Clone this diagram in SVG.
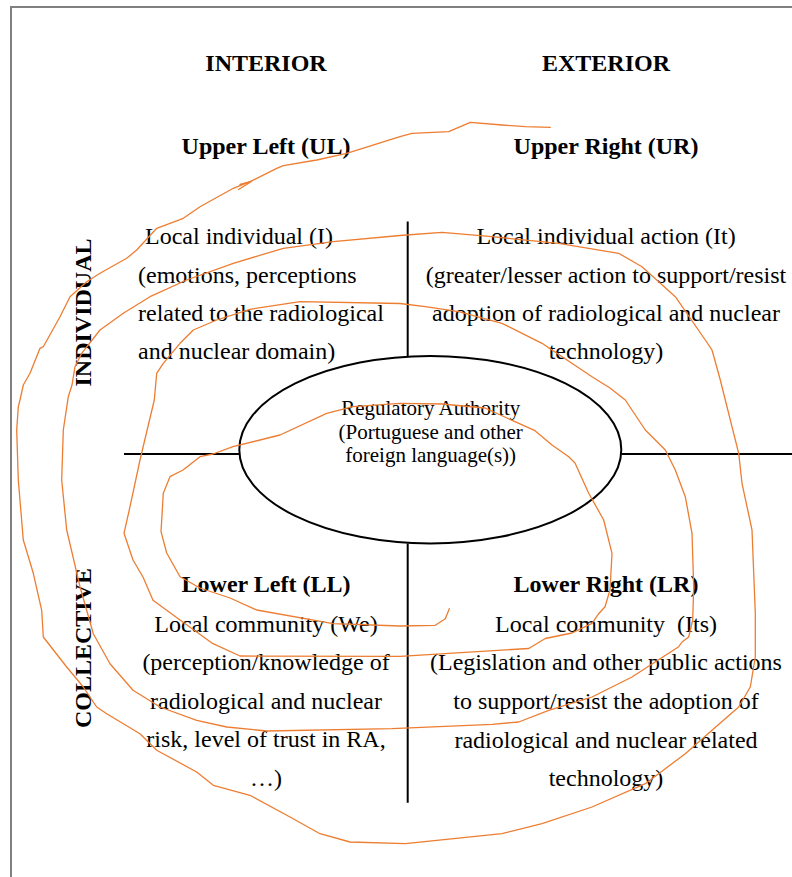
<svg xmlns="http://www.w3.org/2000/svg" width="792" height="877" viewBox="0 0 792 877">
<style>
.t{font-family:"Liberation Serif","Times New Roman",serif;font-size:24px;fill:#000}
.b{font-weight:bold}
.m{text-anchor:middle}
.e{font-family:"Liberation Serif","Times New Roman",serif;font-size:21px;fill:#000;text-anchor:middle}
.ln{stroke:#000;stroke-width:2;fill:none}
.sp{stroke:#ED7D31;stroke-width:1.3;fill:none;stroke-linejoin:round;stroke-linecap:round}
</style>
<rect width="792" height="877" fill="#fff"/>
<path d="M11,877 V7 H792" stroke="#808080" stroke-width="2" fill="none"/>

<g id="headers">
<text class="t b m" x="266" y="71">INTERIOR</text>
<text class="t b m" x="606" y="71">EXTERIOR</text>
<text class="t b m" transform="translate(91,312.5) rotate(-90)" x="0" y="0">INDIVIDUAL</text>
<text class="t b m" transform="translate(91,648) rotate(-90)" x="0" y="0">COLLECTIVE</text>
</g>

<g id="axes">
<line class="ln" x1="124" y1="454" x2="239.3" y2="454"/>
<line class="ln" x1="621.3" y1="454" x2="792" y2="454"/>
<line class="ln" x1="407.7" y1="221.5" x2="407.7" y2="356"/>
<line class="ln" x1="407.7" y1="543.4" x2="407.7" y2="802.7"/>
</g>

<g id="upper-left">
<text class="t b m" x="266" y="154.3">Upper Left (UL)</text>
<text class="t" x="145" y="244">Local individual (I)</text>
<text class="t" x="138" y="283.3">(emotions, perceptions</text>
<text class="t" x="138" y="320.8">related to the radiological</text>
<text class="t" x="138" y="359.3">and nuclear domain)</text>
</g>

<g id="upper-right">
<text class="t b m" x="606" y="154.3">Upper Right (UR)</text>
<text class="t m" x="606" y="244">Local individual action (It)</text>
<text class="t m" x="606" y="283.3">(greater/lesser action to support/resist</text>
<text class="t m" x="606" y="320.8">adoption of radiological and nuclear</text>
<text class="t m" x="606" y="359.3">technology)</text>
</g>

<g id="lower-left">
<text class="t b m" x="266" y="592.3">Lower Left (LL)</text>
<text class="t m" x="266" y="632">Local community (We)</text>
<text class="t m" x="266" y="670.3">(perception/knowledge of</text>
<text class="t m" x="266" y="708.5">radiological and nuclear</text>
<text class="t m" x="266" y="747.2">risk, level of trust in RA,</text>
<text class="t m" x="266" y="786.3">…)</text>
</g>

<g id="lower-right">
<text class="t b m" x="606" y="592.3">Lower Right (LR)</text>
<text class="t m" x="606" y="632" style="white-space:pre" xml:space="preserve">Local community  (Its)</text>
<text class="t m" x="606" y="670.3">(Legislation and other public actions</text>
<text class="t m" x="606" y="708.6">to support/resist the adoption of</text>
<text class="t m" x="606" y="747.5">radiological and nuclear related</text>
<text class="t m" x="606" y="786.3">technology)</text>
</g>

<g id="regulatory-authority">
<ellipse class="ln" cx="430.3" cy="449.7" rx="191" ry="93.7"/>
<text class="e" x="430.7" y="414.5">Regulatory Authority</text>
<text class="e" x="430.7" y="438.5">(Portuguese and other</text>
<text class="e" x="430.7" y="462">foreign language(s))</text>
</g>

<g id="connectors">
<path class="sp" d="M449.3,608.7 L445.3,618.7 L435.3,625.3 L400,626 L333,623.7 L256.7,610 L230,598 L200,588 L180,576.7 L166.7,553 L161,531.7 L163.3,493.3 L170,476.7 L183,470 L200,456.7 L213,454 L233,446.7 L280,435 L326.7,413.3 L353,406.7 L400,403.3 L442,404 L485,408 L535,430.7 L552,445 L568.7,456.7 L575,463 L588.7,493.3 L603.7,520 L612,553.3 L610,590 L605,606.7 L598.7,613.7 L592,623.3 L572,633 L545.3,638.5 L528.7,648.5 L400,656.3 L240,656 L213,643.7 L180,620 L153,600.3 L143,577 L133,560 L124,533.3 L130,506.7 L140,460 L154.3,400 L156.7,373.3 L163.3,363.3 L180,343.3 L193.3,330 L216.7,320 L250,309.3 L300,301.7 L400,303.5 L425.3,306.7 L458.7,311.7 L502,323.3 L542,343.3 L592,376.7 L610,388 L625.3,400 L645.3,430 L665.3,450 L675.3,470 L685.3,496.7 L692,533.3 L693.7,586.7 L692.7,620 L688.7,637 L682,642 L678.7,646.7 L632,677 L592,697 L548.7,710.3 L518.7,722 L492,724.3 L392,728.7 L266.7,731 L226.7,727 L196.7,720.3 L160,707 L133,690.3 L110,663.7 L93.3,633.7 L80,586.7 L66.7,530 L61.7,480 L63.3,430 L68.3,396.7 L72,385 L75,366.7 L81.7,353.3 L100,330 L123.3,313.3 L150,296.7 L186.7,280 L233.3,263.3 L283.3,248.3 L333.3,241.7 L400,235.5 L442,232.3 L492,236.7 L558.7,243.3 L618.7,253.3 L642,266.7 L675.3,296.7 L705.3,340 L712,350 L720.3,380 L725.3,400 L738.7,453.3 L742,483.3 L752,530 L755.3,613.3 L755.3,657 L750.3,687 L738.7,707 L712,730.3 L685.3,753.7 L645.3,783.7 L592,807 L542,823.7 L502,833.7 L405.3,843.7 L350,842 L320,833.7 L290,817 L250,795.3 L213.3,785.3 L196.7,772 L156.7,750.3 L140,733.7 L106.7,713.7 L96.7,707 L83.3,687 L66.7,667 L43.3,637 L41.7,610.3 L33.3,573.3 L23.3,540 L18.3,480 L16.7,430 L18.3,406.7 L20,400 L23.3,385 L30,373.3 L40,348.3 L43.3,346.7 L60,316.7 L70,296.7 L86.7,281.7 L100,273.3 L126.7,258.3 L136.7,250 L156.7,228.3 L183.3,218.3 L200,206.7 L233.3,188.3 L250,181.7 L276.7,168.3 L283.3,165.7 L316.7,160 L346.7,153.3 L400,136.7 L412,133.3 L448.7,131.7 L470.3,122.3 L502,125 L525.3,126.7 L550.3,127.3"/>
<path class="sp" d="M240,184.5 L251.5,181.5 L238.5,189.5"/>
</g>
</svg>
